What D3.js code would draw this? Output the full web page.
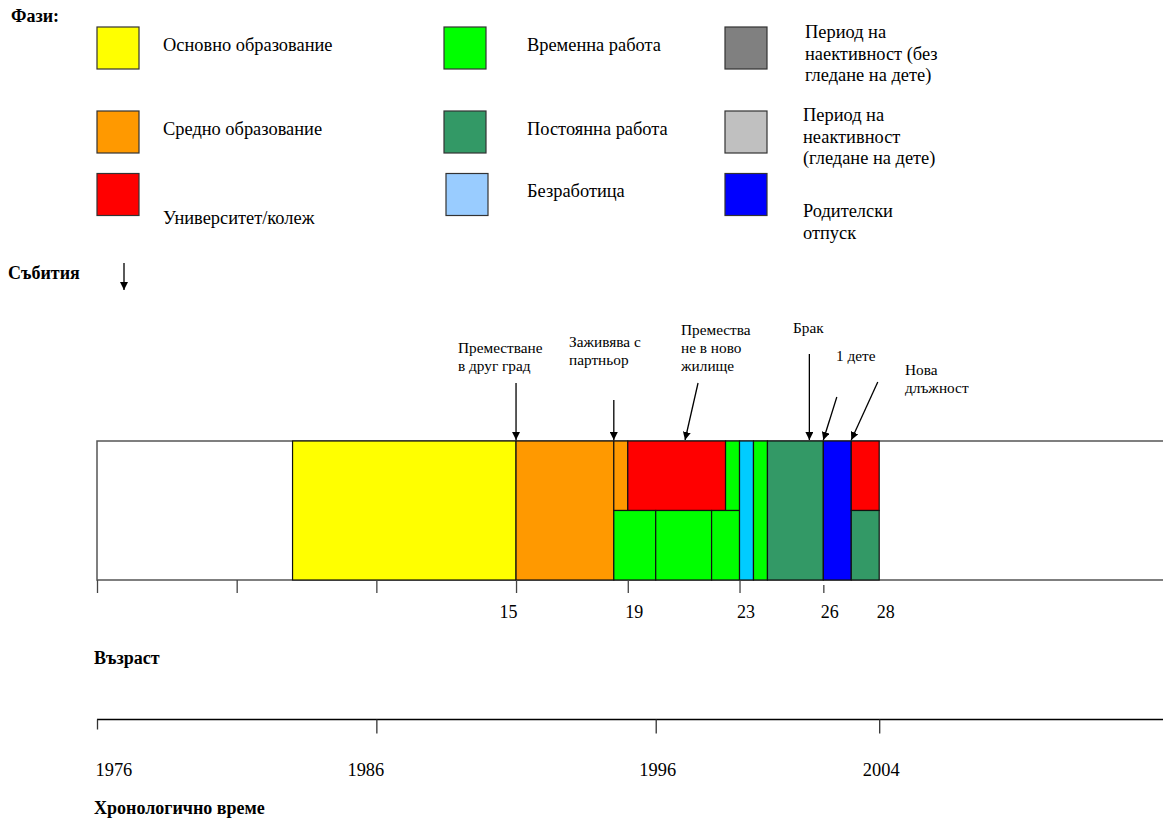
<!DOCTYPE html>
<html>
<head>
<meta charset="utf-8">
<script src="https://cdn.jsdelivr.net/npm/d3@7"></script>
<style>
  body { margin: 0; background: #fff; }
  text { font-family: "Liberation Serif", "Times New Roman", serif; fill: #000; }
</style>
</head>
<body>
<div id="vis-container"></div>
<script>
// phases (legend order: column by column)
const phaseKeys = ["basic", "secondary", "university", "temp", "perm", "unemp", "inactive", "inactiveChild", "parental"];
const phaseLabels = [
  ["Основно образование"],
  ["Средно образование"],
  ["Университет/колеж"],
  ["Временна работа"],
  ["Постоянна работа"],
  ["Безработица"],
  ["Период на", "наективност (без", "гледане на дете)"],
  ["Период на", "неактивност", "(гледане на дете)"],
  ["Родителски", "отпуск"]
];
const phaseColors = ["#FFFF00", "#FF9900", "#FF0000", "#00FF00", "#339966", "#99CCFF", "#808080", "#C0C0C0", "#0000FF"];

// spells in the life course, age in years; band: full / top / bottom half of the bar
const spells = [
  { phase: "basic", from: 7, to: 15, band: "full" },
  { phase: "secondary", from: 15, to: 18.5, band: "full" },
  { phase: "secondary", from: 18.5, to: 19, band: "top" },
  { phase: "university", from: 19, to: 22.5, band: "top" },
  { phase: "temp", from: 22.5, to: 23, band: "top" },
  { phase: "temp", from: 18.5, to: 20, band: "bottom" },
  { phase: "temp", from: 20, to: 22, band: "bottom" },
  { phase: "temp", from: 22, to: 23, band: "bottom" },
  { phase: "unemp", from: 23, to: 23.5, band: "full" },
  { phase: "temp", from: 23.5, to: 24, band: "full" },
  { phase: "perm", from: 24, to: 26, band: "full" },
  { phase: "parental", from: 26, to: 27, band: "full" },
  { phase: "university", from: 27, to: 28, band: "top" },
  { phase: "perm", from: 27, to: 28, band: "bottom" }
];

// events: age at which the arrow points
const eventLabels = [
  ["Преместване", "в друг град"],
  ["Заживява с", "партньор"],
  ["Премества", "не в ново", "жилище"],
  ["Брак"],
  ["1 дете"],
  ["Нова", "длъжност"]
];
const eventAges = [15, 18.5, 21.05, 25.5, 26, 27];

const ageTicks = [0, 5, 10, 15, 19, 23, 26];
const ageTickLabels = [15, 19, 23, 26, 28];
const yearTicks = [1976, 1986, 1996, 2004];

const W = 1163, H = 818;
const svg = d3.select("#vis-container").append("svg")
  .attr("width", W).attr("height", H);

svg.append("defs").append("marker")
  .attr("id", "head")
  .attr("viewBox", "0 0 10 10")
  .attr("refX", 10).attr("refY", 5)
  .attr("markerWidth", 8).attr("markerHeight", 8)
  .attr("markerUnits", "userSpaceOnUse")
  .attr("orient", "auto")
  .append("path").attr("d", "M0,0 L10,5 L0,10 Z").attr("fill", "#000");

// scales
const x = d3.scaleLinear().domain([0, 28]).range([97, 879.2]);
const xYear = d3.scaleLinear().domain([1976, 2004]).range([97, 879.2]);
const color = d3.scaleOrdinal().domain(phaseKeys).range(phaseColors);
const barColor = k => k === "unemp" ? "#00CCFF" : color(k);

// ---- legend ----
svg.append("text").attr("x", 11).attr("y", 22)
  .style("font-size", "18px").style("font-weight", "bold").text("Фази:");

const colX = [97, 444, 725];
const rowY = [27, 111, 173];
const textX = [163, 527, 805];
// first baseline of each legend label, relative to its box top
const legendDy = [24, 24, 51, 24, 24, 24, 11, 10, 44];
const legend = svg.append("g");
phaseKeys.forEach((k, i) => {
  const c = Math.floor(i / 3), r = i % 3;
  legend.append("rect")
    .attr("x", colX[c] + (k === "unemp" ? 2 : 0)).attr("y", rowY[r] + (r === 2 ? 0.5 : 0))
    .attr("width", 42).attr("height", 42)
    .attr("fill", color(k)).attr("stroke", "#333").attr("stroke-width", 1.2);
  const t = legend.append("text").style("font-size", "18.4px");
  phaseLabels[i].forEach((s, j) => {
    t.append("tspan").attr("x", textX[c] - (c === 2 && i > 6 ? 2 : 0))
      .attr("y", rowY[r] + legendDy[i] + j * 21.5).text(s);
  });
});

// ---- events ----
svg.append("text").attr("x", 8).attr("y", 279)
  .style("font-size", "18px").style("font-weight", "bold").text("Събития");
svg.append("line").attr("x1", 124).attr("y1", 263).attr("x2", 124).attr("y2", 290)
  .attr("stroke", "#000").attr("stroke-width", 1.3).attr("marker-end", "url(#head)");

// arrow start offset and label placement per event (layout only)
const eventLayout = [
  { sx: 0, sy: 383, lx: 458, ly: 353 },
  { sx: 0, sy: 400, lx: 569, ly: 347 },
  { sx: 13, sy: 383, lx: 681, ly: 335 },
  { sx: 0, sy: 354, lx: 793, ly: 333 },
  { sx: 13.5, sy: 397, lx: 836, ly: 361 },
  { sx: 26.5, sy: 382, lx: 905, ly: 375 }
];
const barTop = 441, barMid = 510.5, barBot = 580;

const ev = svg.append("g");
eventAges.forEach((a, i) => {
  const L = eventLayout[i];
  ev.append("line")
    .attr("x1", x(a) + L.sx).attr("y1", L.sy)
    .attr("x2", x(a)).attr("y2", barTop - 1)
    .attr("stroke", "#000").attr("stroke-width", 1.3)
    .attr("marker-end", "url(#head)");
  const t = ev.append("text").style("font-size", "15.3px");
  eventLabels[i].forEach((s, j) => {
    t.append("tspan").attr("x", L.lx).attr("y", L.ly + j * 18).text(s);
  });
});

// ---- life course bar ----
svg.append("rect")
  .attr("x", x(0)).attr("y", barTop)
  .attr("width", W - x(0) + 5).attr("height", barBot - barTop)
  .attr("fill", "#fff").attr("stroke", "#555").attr("stroke-width", 1.5);

const bandY = { full: [barTop, barBot], top: [barTop, barMid], bottom: [barMid, barBot] };
svg.append("g").selectAll("rect")
  .data(spells)
  .join("rect")
  .attr("x", d => x(d.from))
  .attr("y", d => bandY[d.band][0])
  .attr("width", d => x(d.to) - x(d.from))
  .attr("height", d => bandY[d.band][1] - bandY[d.band][0])
  .attr("fill", d => barColor(d.phase))
  .attr("stroke", "#111").attr("stroke-width", 1.2);

// ---- age axis ----
const ageAxis = svg.append("g")
  .attr("transform", `translate(0,${barBot})`)
  .call(d3.axisBottom(x).tickValues(ageTicks).tickSize(13).tickFormat(""));
ageAxis.select(".domain").remove();
ageAxis.selectAll(".tick line").attr("stroke", "#444").attr("stroke-width", 1.3)
  .filter(d => d === 26).attr("y1", 5);

const ageLab = svg.append("g")
  .attr("transform", `translate(0,${barBot})`)
  .call(d3.axisBottom(x).tickValues(ageTickLabels).tickSize(0).tickPadding(25));
ageLab.select(".domain").remove();
ageLab.selectAll("text")
  .attr("dx", d => d === 15 ? -8 : 6)
  .style("font-family", "Liberation Serif").style("font-size", "18px");

svg.append("text").attr("x", 94).attr("y", 664)
  .style("font-size", "18px").style("font-weight", "bold").text("Възраст");

// ---- chronological axis ----
const yAxis = 719.5;
svg.append("line").attr("x1", x(0)).attr("x2", W).attr("y1", yAxis).attr("y2", yAxis)
  .attr("stroke", "#000").attr("stroke-width", 1.3);
const yearAxis = svg.append("g")
  .attr("transform", `translate(0,${yAxis})`)
  .call(d3.axisBottom(xYear).tickValues(yearTicks).tickSize(14).tickPadding(29).tickFormat(d3.format("d")));
yearAxis.select(".domain").remove();
yearAxis.selectAll(".tick line").attr("stroke", "#333").attr("stroke-width", 1.3)
  .filter(d => d === 1976).attr("y2", 10);
yearAxis.selectAll("text")
  .attr("text-anchor", d => d === 1976 ? "start" : "middle")
  .attr("dx", d => d === 1976 ? -2 : d === 1986 ? -11 : 1.5)
  .style("font-family", "Liberation Serif").style("font-size", "18.4px");

svg.append("text").attr("x", 94).attr("y", 814)
  .style("font-size", "18px").style("font-weight", "bold").text("Хронологично време");
</script>
</body>
</html>
